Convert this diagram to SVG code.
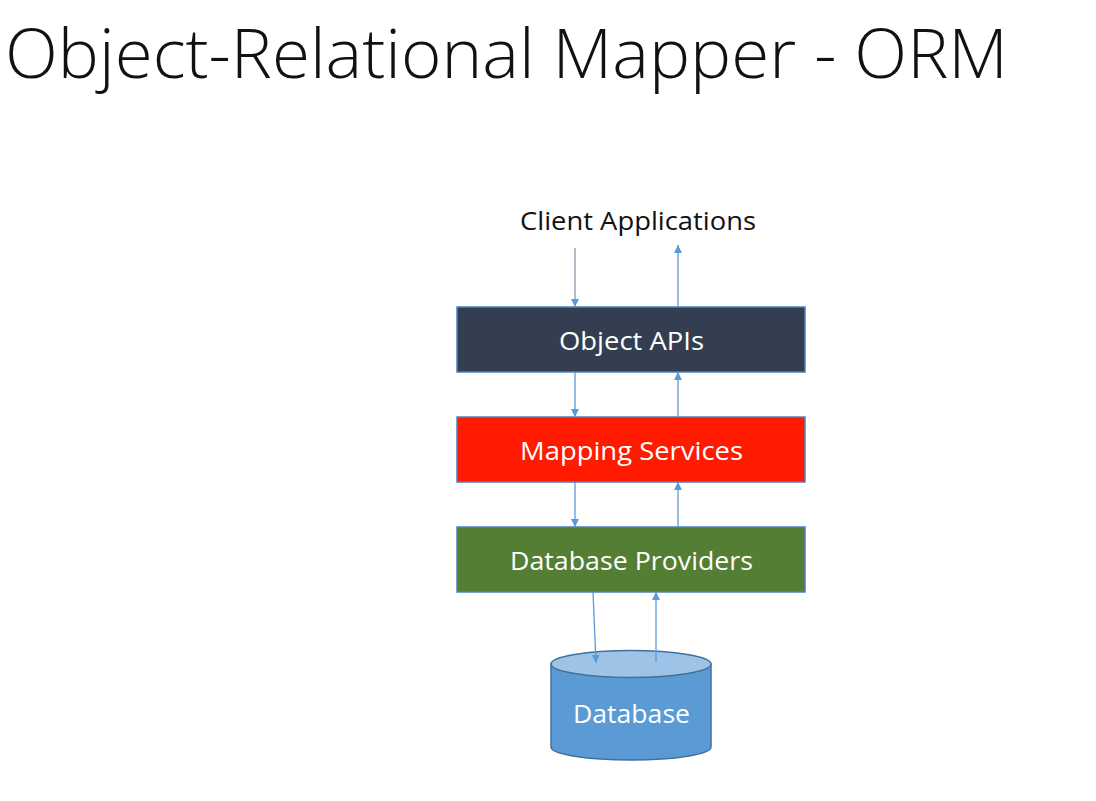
<svg xmlns="http://www.w3.org/2000/svg" width="1096" height="801" viewBox="0 0 1096 801">
<defs>
<style>
.title{font-family:"Open Sans","Liberation Sans",sans-serif;font-weight:300;font-size:68px;fill:#111}
.lbl{font-family:"Open Sans","Liberation Sans",sans-serif;font-size:26px;fill:#fff;text-anchor:middle}
.cl{font-family:"Open Sans","Liberation Sans",sans-serif;font-size:26px;fill:#111;text-anchor:middle}
.box{stroke:#4F81BD;stroke-width:1.5}
.conn{stroke:#5B9BD5;stroke-width:1.3;fill:none;marker-end:url(#ah)}
</style>
<marker id="ah" viewBox="0 0 10 10" refX="10" refY="5" markerWidth="8" markerHeight="8" markerUnits="userSpaceOnUse" orient="auto">
<path d="M0,0 L10,5 L0,10 z" fill="#5B9BD5"/>
</marker>
</defs>
<rect width="1096" height="801" fill="#fff"/>
<text class="title" x="5" y="78" textLength="1003" lengthAdjust="spacingAndGlyphs">Object-Relational Mapper - ORM</text>
<g id="client"><text class="cl" x="638" y="230" textLength="236" lengthAdjust="spacingAndGlyphs">Client Applications</text></g>
<g id="object-apis"><rect class="box" x="457" y="307" width="348" height="65" fill="#333F50"/><text class="lbl" x="631.5" y="350" textLength="145" lengthAdjust="spacingAndGlyphs">Object APIs</text></g>
<g id="mapping-services"><rect class="box" x="457" y="417" width="348" height="65" fill="#FF1A00"/><text class="lbl" x="631.5" y="460" textLength="223" lengthAdjust="spacingAndGlyphs">Mapping Services</text></g>
<g id="database-providers"><rect class="box" x="457" y="527" width="348" height="65" fill="#537E33"/><text class="lbl" x="631.5" y="570" textLength="243" lengthAdjust="spacingAndGlyphs">Database Providers</text></g>
<g id="database">
<path d="M551,664 L551,747 A80,13 0 0 0 711,747 L711,664 Z" fill="#5B9BD5" stroke="#41719C" stroke-width="1.5"/>
<ellipse cx="631" cy="664" rx="80" ry="13.5" fill="#9DC3E6" stroke="#41719C" stroke-width="1.5"/>
<text class="lbl" x="631.5" y="723" textLength="117" lengthAdjust="spacingAndGlyphs">Database</text>
</g>
<g id="connectors">
<line class="conn" x1="575" y1="248" x2="575" y2="307" style="stroke:#8C9AAB"/>
<line class="conn" x1="678" y1="307" x2="678" y2="245"/>
<line class="conn" x1="575" y1="372" x2="575" y2="417"/>
<line class="conn" x1="678" y1="417" x2="678" y2="372"/>
<line class="conn" x1="575" y1="482" x2="575" y2="527"/>
<line class="conn" x1="678" y1="527" x2="678" y2="482"/>
<line class="conn" x1="593" y1="592" x2="596" y2="663"/>
<line class="conn" x1="656" y1="662" x2="656" y2="592"/>
</g>
</svg>
